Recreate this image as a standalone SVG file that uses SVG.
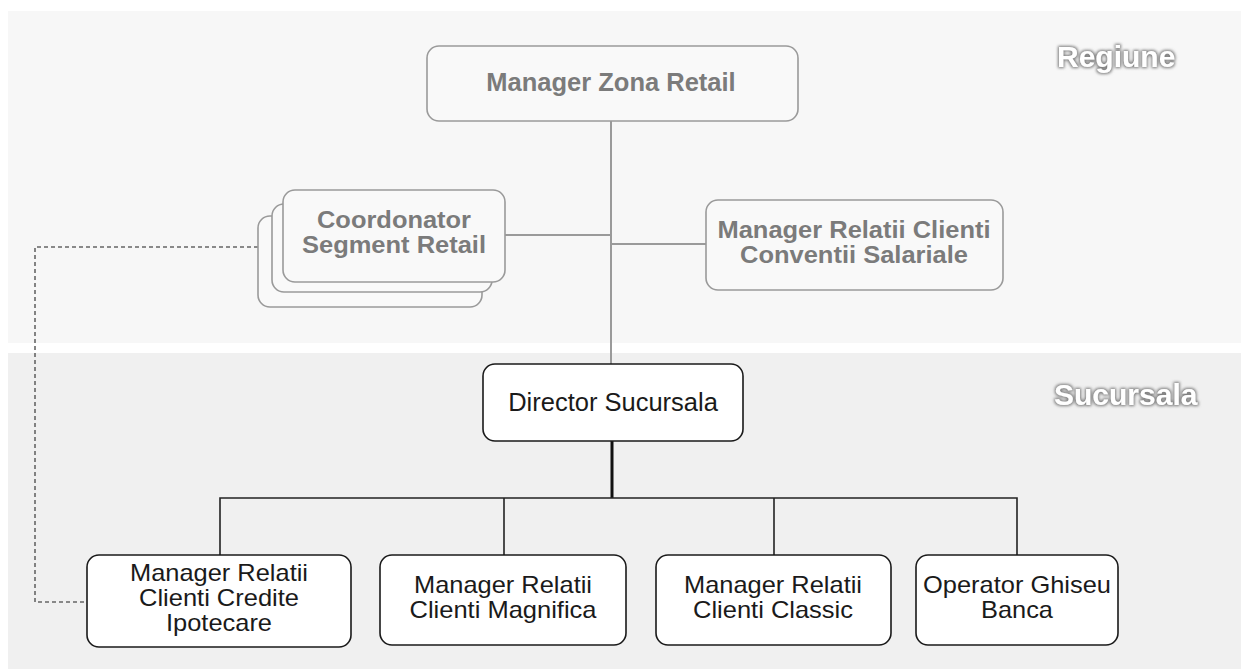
<svg xmlns="http://www.w3.org/2000/svg" width="1241" height="669" viewBox="0 0 1241 669">
<style>
.top rect{fill:#f9f9f9;stroke:#9a9a9a;stroke-width:1.6}
.top text{font-family:"Liberation Sans",Arial,sans-serif;font-weight:bold;font-size:24px;fill:#7b7b7b;text-anchor:middle}
.bot rect{fill:#ffffff;stroke:#1a1a1a;stroke-width:1.6}
.bot text{font-family:"Liberation Sans",Arial,sans-serif;font-size:24px;fill:#1a1a1a;text-anchor:middle}
.big{font-size:25.5px !important}
.lbl{font-family:"Liberation Sans",Arial,sans-serif;font-weight:bold;font-size:30px;fill:#ffffff}
.gc{stroke:#9a9a9a;stroke-width:2;fill:none}
.bc{stroke:#222;stroke-width:1.6;fill:none}
.dash{stroke:#666;stroke-width:1.6;stroke-dasharray:4 3;fill:none}
</style>
<defs>
<filter id="halo" x="-20%" y="-50%" width="140%" height="200%">
<feMorphology in="SourceAlpha" operator="dilate" radius="1.2" result="d"/>
<feGaussianBlur in="d" stdDeviation="1.4" result="b"/>
<feFlood flood-color="#7a7a7a"/>
<feComposite in2="b" operator="in" result="s"/>
<feMerge><feMergeNode in="s"/><feMergeNode in="SourceGraphic"/></feMerge>
</filter>
</defs>
<rect width="1241" height="669" fill="#ffffff"/>
<g id="bands">
<rect x="8" y="11" width="1233" height="332" fill="#f7f7f7"/>
<rect x="8" y="353" width="1233" height="316" fill="#f0f0f0"/>
<text class="lbl" x="1057" y="67" filter="url(#halo)">Regiune</text>
<text class="lbl" x="1054" y="405" filter="url(#halo)">Sucursala</text>
</g>
<g id="connectors">
<line class="gc" x1="611" y1="121" x2="611" y2="364"/>
<line class="gc" x1="505" y1="235" x2="611" y2="235"/>
<line class="gc" x1="611" y1="244" x2="706" y2="244"/>
<polyline class="dash" points="258,247 35,247 35,602 87,602"/>
<line x1="612" y1="441" x2="612" y2="498" stroke="#111" stroke-width="3"/>
<polyline class="bc" points="220,555 220,498 1017,498 1017,555"/>
<line class="bc" x1="504" y1="498" x2="504" y2="555"/>
<line class="bc" x1="774" y1="498" x2="774" y2="555"/>
</g>
<g id="manager-zona" class="top">
<rect x="427" y="46" width="371" height="75" rx="12"/>
<text class="big" x="611" y="91">Manager Zona Retail</text>
</g>
<g id="coordonator" class="top">
<rect x="258" y="216" width="224" height="91" rx="12"/>
<rect x="272" y="204" width="220" height="88" rx="12"/>
<rect x="283" y="190" width="222" height="92" rx="12"/>
<text x="394" y="228" textLength="154" lengthAdjust="spacingAndGlyphs">Coordonator</text>
<text x="394" y="253" textLength="184" lengthAdjust="spacingAndGlyphs">Segment Retail</text>
</g>
<g id="conventii" class="top">
<rect x="706" y="200" width="297" height="90" rx="12"/>
<text x="854" y="238" textLength="273" lengthAdjust="spacingAndGlyphs">Manager Relatii Clienti</text>
<text x="854" y="263" textLength="228" lengthAdjust="spacingAndGlyphs">Conventii Salariale</text>
</g>
<g id="director" class="bot">
<rect x="483" y="364" width="260" height="77" rx="12"/>
<text class="big" x="613" y="411">Director Sucursala</text>
</g>
<g id="mrc-credite" class="bot">
<rect x="87" y="555" width="264" height="92" rx="12"/>
<text x="219" y="581" textLength="178" lengthAdjust="spacingAndGlyphs">Manager Relatii</text>
<text x="219" y="606" textLength="160" lengthAdjust="spacingAndGlyphs">Clienti Credite</text>
<text x="219" y="631" textLength="106" lengthAdjust="spacingAndGlyphs">Ipotecare</text>
</g>
<g id="mrc-magnifica" class="bot">
<rect x="380" y="555" width="246" height="90" rx="12"/>
<text x="503" y="593" textLength="178" lengthAdjust="spacingAndGlyphs">Manager Relatii</text>
<text x="503" y="618" textLength="187" lengthAdjust="spacingAndGlyphs">Clienti Magnifica</text>
</g>
<g id="mrc-classic" class="bot">
<rect x="656" y="555" width="235" height="90" rx="12"/>
<text x="773" y="593" textLength="178" lengthAdjust="spacingAndGlyphs">Manager Relatii</text>
<text x="773" y="618" textLength="160" lengthAdjust="spacingAndGlyphs">Clienti Classic</text>
</g>
<g id="operator" class="bot">
<rect x="916" y="555" width="202" height="90" rx="12"/>
<text x="1017" y="593" textLength="188" lengthAdjust="spacingAndGlyphs">Operator Ghiseu</text>
<text x="1017" y="618" textLength="72" lengthAdjust="spacingAndGlyphs">Banca</text>
</g>
</svg>
